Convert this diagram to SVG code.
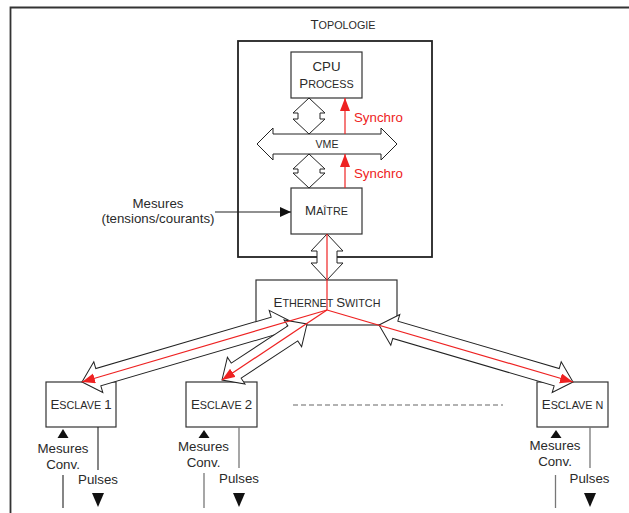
<svg xmlns="http://www.w3.org/2000/svg" width="629" height="513" viewBox="0 0 629 513">
<defs>
<style>
text{font-family:"Liberation Sans",Arial,sans-serif;fill:#2a2a2a}
.lab{font-size:13.3px}
.big{font-size:13.3px}
.sc{font-size:10.8px}
.box{fill:#fff;stroke:#333;stroke-width:1.2}
.ha{fill:#fff;stroke:#222;stroke-width:1}
.red{stroke:#ee2222;stroke-width:1.2;fill:none}
.blk{stroke:#222;stroke-width:1.1;fill:none}
.gry{stroke:#777;stroke-width:1.3;fill:none}
.syn{fill:#ee2222;font-size:13.3px}
</style>
<marker id="ra" markerUnits="userSpaceOnUse" markerWidth="14" markerHeight="12" refX="13" refY="5" orient="auto"><path d="M0,0 L13,5 L0,10 z" fill="#ee2222"/></marker>
<marker id="ka" markerUnits="userSpaceOnUse" markerWidth="12" markerHeight="12" refX="11" refY="5" orient="auto"><path d="M0,0 L11,5 L0,10 z" fill="#111"/></marker>
</defs>
<rect width="629" height="513" fill="#fff"/>
<g id="frame">
<path d="M10.5,513 V7.5 H629" fill="none" stroke="#333" stroke-width="1.8"/>
</g>
<g id="topologie">
<rect x="238" y="41" width="194" height="216" fill="none" stroke="#222" stroke-width="1.8"/>
<text x="343" y="29" text-anchor="middle"><tspan class="big">T</tspan><tspan class="sc">OPOLOGIE</tspan></text>
</g>
<g id="cpu">
<rect class="box" x="291" y="52" width="71" height="46"/>
<text x="326.5" y="71" text-anchor="middle" class="big">CPU</text>
<text x="326.5" y="87.5" text-anchor="middle"><tspan class="big">P</tspan><tspan class="sc">ROCESS</tspan></text>
</g>
<g id="maitre">
<rect class="box" x="291" y="188" width="71" height="46"/>
<text x="326.5" y="215" text-anchor="middle"><tspan class="big">M</tspan><tspan class="sc">AÎTRE</tspan></text>
</g>
<g id="switch">
<rect class="box" x="256" y="280" width="141" height="45" stroke="#555"/>
<text x="327" y="306.5" text-anchor="middle"><tspan class="big">E</tspan><tspan class="sc">THERNET </tspan><tspan class="big">S</tspan><tspan class="sc">WITCH</tspan></text>
</g>
<g id="esclave1">
<rect class="box" x="46" y="382" width="70" height="45"/>
<text x="81" y="409" text-anchor="middle"><tspan class="big">E</tspan><tspan class="sc">SCLAVE </tspan><tspan class="big">1</tspan></text>
</g>
<g id="esclave2">
<rect class="box" x="186" y="382" width="71" height="45"/>
<text x="221.5" y="409" text-anchor="middle"><tspan class="big">E</tspan><tspan class="sc">SCLAVE </tspan><tspan class="big">2</tspan></text>
</g>
<g id="esclaven">
<rect class="box" x="537" y="382" width="71" height="45"/>
<text x="572.5" y="409" text-anchor="middle"><tspan class="big">E</tspan><tspan class="sc">SCLAVE N</tspan></text>
</g>
<g id="connectors">
<!-- VME bus -->
<polygon class="ha" points="257,144 273,128 273,134 381,134 381,128 397,144 381,160 381,154 273,154 273,160"/>
<text x="327" y="147.5" text-anchor="middle" style="font-size:10.6px">VME</text>
<!-- CPU <-> VME -->
<polygon class="ha" points="309,98 325,113 320,113 320,119 325,119 309,134 293,119 298,119 298,113 293,113"/>
<!-- VME <-> Maitre -->
<polygon class="ha" points="309,154 325,169 320,169 320,173 325,173 309,188 293,173 298,173 298,169 293,169"/>
<!-- Maitre <-> Switch -->
<polygon class="ha" points="327,234 343,251 337,251 337,263 343,263 327,280 311,263 317,263 317,251 311,251"/>
<!-- Switch <-> slaves hollow arrows -->
<polygon class="ha" transform="translate(82,382) rotate(-16.35)" points="0,0 17,-16 17,-9 199.8,-9 199.8,-16 216.8,0 199.8,16 199.8,9 17,9 17,16"/>
<polygon class="ha" transform="translate(222,380) rotate(-33.38)" points="0,0 17,-16 17,-9 84.8,-9 84.8,-16 101.8,0 84.8,16 84.8,9 17,9 17,16"/>
<polygon class="ha" transform="translate(379,325) rotate(16.37)" points="0,0 17,-16 17,-9 185.2,-9 185.2,-16 202.2,0 185.2,16 185.2,9 17,9 17,16"/>
<!-- red lines -->
<line class="red" x1="327" y1="234" x2="327" y2="310"/>
<line class="red" x1="327" y1="310" x2="82" y2="382" marker-end="url(#ra)"/>
<line class="red" x1="327" y1="310" x2="222" y2="380" marker-end="url(#ra)"/>
<line class="red" x1="327" y1="310" x2="573" y2="382" marker-end="url(#ra)"/>
<!-- synchro -->
<line class="red" x1="345" y1="134" x2="345" y2="98" marker-end="url(#ra)"/>
<line class="red" x1="345" y1="188" x2="345" y2="154" marker-end="url(#ra)"/>
<text class="syn" x="354" y="122">Synchro</text>
<text class="syn" x="354" y="178">Synchro</text>
<!-- Mesures input -->
<line class="blk" x1="215" y1="212" x2="291" y2="212" marker-end="url(#ka)"/>
<text class="lab" x="158" y="208" text-anchor="middle">Mesures</text>
<text class="lab" x="158" y="223" text-anchor="middle">(tensions/courants)</text>
<!-- dashed -->
<line x1="293" y1="405" x2="503" y2="405" stroke="#666" stroke-width="1.2" stroke-dasharray="5,3"/>
<!-- Esclave 1 IO -->
<polygon points="57.5,438 63,429 68.5,438" fill="#111"/>
<line class="blk" x1="63" y1="475" x2="63" y2="508"/>
<text class="lab" x="63" y="452.5" text-anchor="middle">Mesures</text>
<text class="lab" x="63" y="469" text-anchor="middle">Conv.</text>
<line class="blk" x1="98" y1="427" x2="98" y2="470"/>
<text class="lab" x="98" y="484" text-anchor="middle">Pulses</text>
<polygon points="92,493 104,493 98,507" fill="#111"/>
<!-- Esclave 2 IO -->
<polygon points="198.5,438 204,430 209.5,438" fill="#111"/>
<line class="gry" x1="204" y1="473" x2="204" y2="508"/>
<text class="lab" x="203.5" y="450.5" text-anchor="middle">Mesures</text>
<text class="lab" x="203.5" y="466.5" text-anchor="middle">Conv.</text>
<line class="gry" x1="239" y1="427" x2="239" y2="468"/>
<text class="lab" x="239" y="482.5" text-anchor="middle">Pulses</text>
<polygon points="233,493 245,493 239,507" fill="#111"/>
<!-- Esclave n IO -->
<polygon points="550.5,438 556,430 561.5,438" fill="#111"/>
<line class="gry" x1="555.5" y1="475" x2="555.5" y2="508"/>
<text class="lab" x="555" y="450" text-anchor="middle">Mesures</text>
<text class="lab" x="555" y="465.5" text-anchor="middle">Conv.</text>
<line class="gry" x1="590" y1="427" x2="590" y2="468"/>
<text class="lab" x="589.5" y="482.5" text-anchor="middle">Pulses</text>
<polygon points="584,493 596,493 590,507" fill="#111"/>
</g>
</svg>
